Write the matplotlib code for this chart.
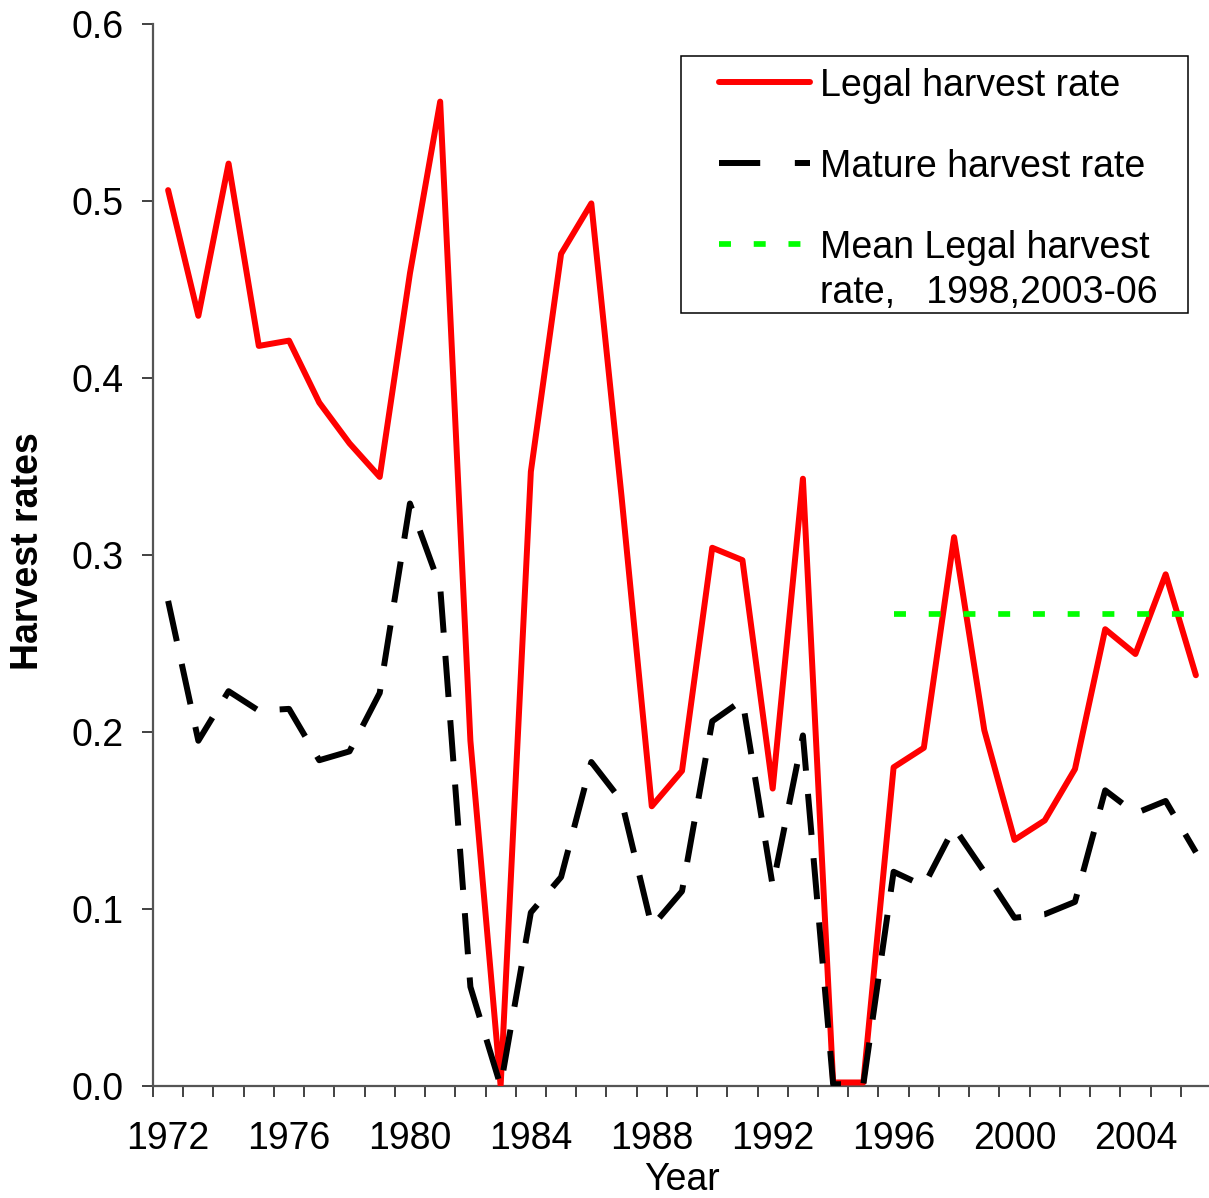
import numpy as np
import matplotlib
matplotlib.use('Agg')
import matplotlib.pyplot as plt
from matplotlib.lines import Line2D
from matplotlib.patches import Rectangle

# Годы промысла
years = np.arange(1972, 2007)

# Доля вылова легальных особей
legal_rate = [0.506, 0.435, 0.521, 0.418, 0.421, 0.386, 0.363, 0.344, 0.459, 0.556,
              0.195, 0.000, 0.347, 0.470, 0.4985, 0.333, 0.158, 0.178, 0.304, 0.297,
              0.168, 0.343, 0.002, 0.002, 0.180, 0.191, 0.310, 0.201, 0.139, 0.150,
              0.179, 0.258, 0.244, 0.289, 0.232]

# Доля вылова зрелых особей
mature_rate = [0.274, 0.195, 0.223, 0.212, 0.213, 0.184, 0.189, 0.222, 0.329, 0.282,
               0.056, 0.000, 0.098, 0.118, 0.183, 0.161, 0.090, 0.110, 0.206, 0.218,
               0.113, 0.198, 0.001, 0.001, 0.121, 0.113, 0.146, 0.121, 0.095, 0.097,
               0.104, 0.167, 0.154, 0.161, 0.132]

# Годы, по которым считается средняя, и отрезок, где она рисуется
mean_years = [1998, 2003, 2004, 2005, 2006]
mean_span = [1996, 2006]

y_ticks = [0.0, 0.1, 0.2, 0.3, 0.4, 0.5, 0.6]
x_label_years = [1972, 1976, 1980, 1984, 1988, 1992, 1996, 2000, 2004]

legal_by_year = dict(zip(years, legal_rate))
mean_legal = np.mean([legal_by_year[y] for y in mean_years])

plt.rcParams['font.family'] = ['Liberation Sans', 'DejaVu Sans']
FS = 27

W, H = 1209, 1198
fig = plt.figure(figsize=(W / 100, H / 100), dpi=100)


def fx(x):
    return x / W


def fy(y):
    return 1 - y / H


ax = fig.add_axes([fx(153), fy(1086), fx(1211) - fx(153), fy(23.7) - fy(1086)])

RED = '#ff0000'
GREEN = '#00ff00'
LW = 4.3

ax.plot(years, legal_rate, color=RED, lw=LW, solid_joinstyle='round',
        solid_capstyle='round', zorder=3)
ax.plot(years, mature_rate, color='black', lw=LW, linestyle=(0, (6.9, 3.9)),
        dash_capstyle='butt', zorder=4)
ax.plot(mean_span, [mean_legal, mean_legal], color=GREEN, lw=4.1,
        linestyle=(0, (2.1, 4.0)), dash_capstyle='butt', zorder=5)

ax.set_xlim(1971.5, 2006.5)
ax.set_ylim(0, 0.6)

# Деления по границам категорий, подписи по центру каждого четвёртого года
ax.set_xticks(np.arange(1971.5, 2006.6, 1.0))
ax.set_xticklabels([])
ax.set_xticks(x_label_years, minor=True)
ax.set_xticklabels([str(y) for y in x_label_years], minor=True)
ax.tick_params(axis='x', which='major', length=8, width=1.3, color='#333333', direction='out')
ax.tick_params(axis='x', which='minor', length=0, pad=25, labelsize=FS)

ax.set_yticks(y_ticks)
ax.set_yticklabels([f'{v:.1f}' for v in y_ticks])
ax.tick_params(axis='y', length=8, width=1.3, color='#333333', pad=13, labelsize=FS)

for side in ['top', 'right']:
    ax.spines[side].set_visible(False)
for side in ['left', 'bottom']:
    ax.spines[side].set_color('#555555')
    ax.spines[side].set_linewidth(1.6)

fig.text(fx(682), fy(1190), 'Year', ha='center', va='baseline', fontsize=FS)
fig.text(fx(28), fy(551), 'Harvest rates', ha='center', va='center', rotation=90,
         fontsize=FS, fontweight='bold')

# Легенда в рамке
fig.add_artist(Rectangle((fx(681), fy(313)), fx(1188) - fx(681), fy(56) - fy(313),
                         transform=fig.transFigure, facecolor='white',
                         edgecolor='black', lw=1.1, zorder=6))
fig.add_artist(Line2D([fx(719), fx(810)], [fy(82), fy(82)], transform=fig.transFigure,
                      color=RED, lw=LW, solid_capstyle='round', zorder=7))
fig.add_artist(Line2D([fx(719), fx(810)], [fy(163), fy(163)], transform=fig.transFigure,
                      color='black', lw=LW, linestyle=(0, (6.9, 5.8)),
                      dash_capstyle='butt', zorder=7))
fig.add_artist(Line2D([fx(719), fx(802)], [fy(244), fy(244)], transform=fig.transFigure,
                      color=GREEN, lw=4.1, linestyle=(0, (2.1, 4.0)),
                      dash_capstyle='butt', zorder=7))
legend_labels = [
    (95.7, 'Legal harvest rate'),
    (176.8, 'Mature harvest rate'),
    (258.0, 'Mean Legal harvest'),
    (303.5, 'rate,   1998,2003-06'),
]
for yb, txt in legend_labels:
    fig.text(fx(820), fy(yb), txt, ha='left', va='baseline', fontsize=FS, zorder=8)

fig.savefig('out.png', dpi=100)
